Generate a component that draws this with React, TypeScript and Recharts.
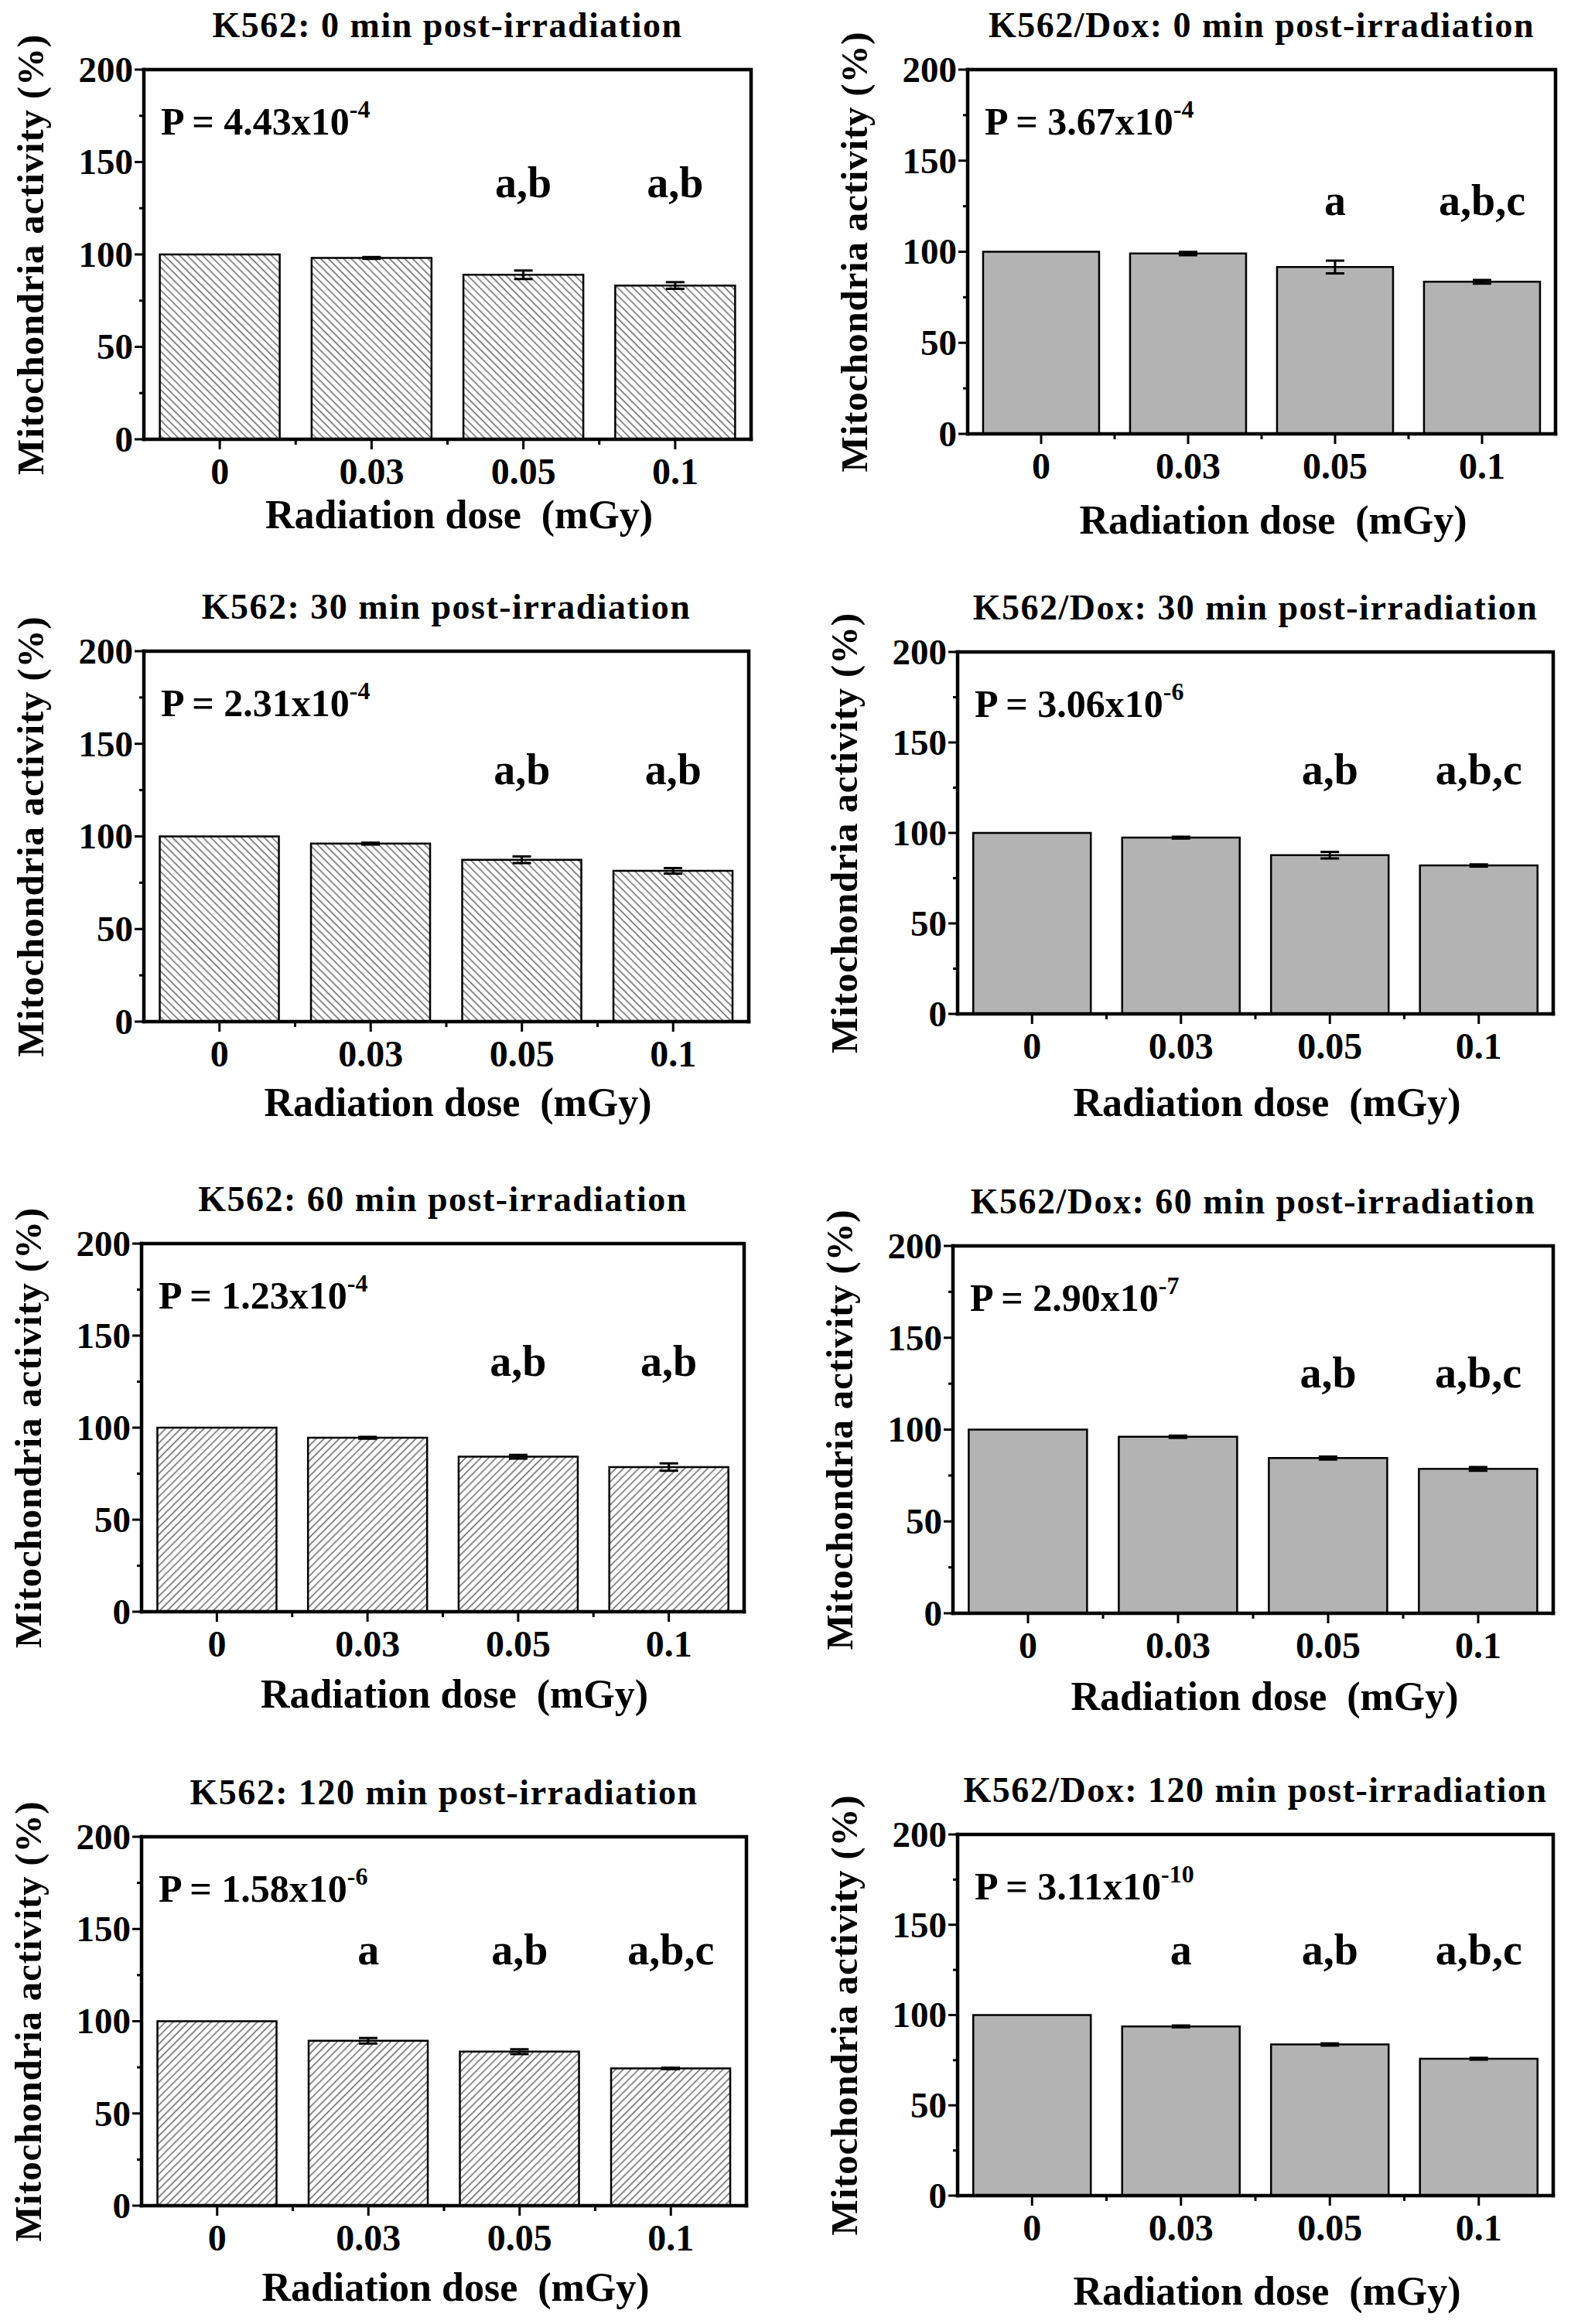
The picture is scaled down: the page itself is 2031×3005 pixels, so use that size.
import React from 'react';
import { BarChart, Bar, XAxis, YAxis, ErrorBar, ReferenceDot } from 'recharts';

const DOSES = ['0', '0.03', '0.05', '0.1'];
const Y_TICKS = [0, 25, 50, 75, 100, 125, 150, 175, 200];

const K562_0 = [100, 98.1, 89.0, 83.2];
const K562_0_ERR = [0, 0.5, 2.3, 1.8];
const DOX_0 = [100, 99.0, 91.6, 83.5];
const DOX_0_ERR = [0, 0.9, 3.5, 1.0];
const K562_30 = [100, 96.1, 87.4, 81.4];
const K562_30_ERR = [0, 0.5, 1.8, 1.5];
const DOX_30 = [100, 97.4, 87.7, 82.0];
const DOX_30_ERR = [0, 0.5, 1.8, 0.6];
const K562_60 = [100, 94.5, 84.2, 78.6];
const K562_60_ERR = [0, 0.5, 1.0, 2.0];
const DOX_60 = [100, 96.1, 84.5, 78.6];
const DOX_60_ERR = [0, 0.6, 0.8, 1.0];
const K562_120 = [100, 89.4, 83.5, 74.4];
const K562_120_ERR = [0, 1.5, 1.3, 0.4];
const DOX_120 = [100, 93.7, 83.7, 75.8];
const DOX_120_ERR = [0, 0.5, 0.6, 0.5];

const VALUES = [K562_0, DOX_0, K562_30, DOX_30, K562_60, DOX_60, K562_120, DOX_120];
const ERRORS = [K562_0_ERR, DOX_0_ERR, K562_30_ERR, DOX_30_ERR, K562_60_ERR, DOX_60_ERR, K562_120_ERR, DOX_120_ERR];

const TITLES = [
  'K562: 0 min post-irradiation',
  'K562/Dox: 0 min post-irradiation',
  'K562: 30 min post-irradiation',
  'K562/Dox: 30 min post-irradiation',
  'K562: 60 min post-irradiation',
  'K562/Dox: 60 min post-irradiation',
  'K562: 120 min post-irradiation',
  'K562/Dox: 120 min post-irradiation',
];

const P_MANTISSA = ['4.43', '3.67', '2.31', '3.06', '1.23', '2.90', '1.58', '3.11'];
const P_EXPONENT = ['-4', '-4', '-4', '-6', '-4', '-7', '-6', '-10'];

const ANNOTATIONS = [
  ['', '', 'a,b', 'a,b'],
  ['', '', 'a', 'a,b,c'],
  ['', '', 'a,b', 'a,b'],
  ['', '', 'a,b', 'a,b,c'],
  ['', '', 'a,b', 'a,b'],
  ['', '', 'a,b', 'a,b,c'],
  ['', 'a', 'a,b', 'a,b,c'],
  ['', 'a', 'a,b', 'a,b,c'],
];

// layout (pixel positions of each plot area) and annotation heights
const LAYOUT = [
  { L: 186, T: 90, R: 971, B: 568, xt: 99, ann: 131, hatch: 'back' },
  { L: 1251, T: 90, R: 2011, B: 561, xt: 113, ann: 120, hatch: 'none' },
  { L: 186, T: 842, R: 968, B: 1321, xt: 106, ann: 128, hatch: 'back' },
  { L: 1238, T: 843, R: 2008, B: 1311, xt: 116, ann: 127, hatch: 'none' },
  { L: 183, T: 1608, R: 962, B: 2084, xt: 108, ann: 128, hatch: 'fwd' },
  { L: 1232, T: 1611, R: 2008, B: 2086, xt: 109, ann: 123, hatch: 'none' },
  { L: 183, T: 2375, R: 965, B: 2852, xt: 107, ann: 131, hatch: 'fwd' },
  { L: 1238, T: 2372, R: 2008, B: 2839, xt: 125, ann: 128, hatch: 'none' },
];

const FONT = "'Liberation Serif', 'Times New Roman', serif";
const AXIS_STYLE = { stroke: '#000', strokeWidth: 4.5, strokeLinecap: 'square' as const };
const TOP_PAD = 40;

function YTick(props: any) {
  const { x, y, payload } = props;
  const major = payload.value % 50 === 0;
  return (
    <g>
      <line x1={x} x2={x - (major ? 12 : 6)} y1={y} y2={y} stroke="#000" strokeWidth={3} />
      {major && (
        <text x={x - 14} y={y} dy="0.34em" textAnchor="end" fontFamily={FONT} fontWeight={700} fontSize={47} fill="#000">
          {payload.value}
        </text>
      )}
    </g>
  );
}

function makeXTick(band: number) {
  return function XTick(props: any) {
    const { x, y, payload, index } = props;
    return (
      <g>
        <line x1={x} x2={x} y1={y} y2={y + 13} stroke="#000" strokeWidth={3} />
        {index < DOSES.length - 1 && (
          <line x1={x + band / 2} x2={x + band / 2} y1={y} y2={y + 7} stroke="#000" strokeWidth={3} />
        )}
        <text x={x} y={y + 58} textAnchor="middle" fontFamily={FONT} fontWeight={700} fontSize={48} fill="#000">
          {payload.value}
        </text>
      </g>
    );
  };
}

function annLabel(text: string) {
  return function AnnContent(props: any) {
    const vb = props.viewBox || {};
    const cx = (vb.x || 0) + (vb.width || 0) / 2;
    const cy = (vb.y || 0) + (vb.height || 0) / 2;
    return (
      <text x={cx} y={cy} textAnchor="middle" fontFamily={FONT} fontWeight={700} fontSize={56} fill="#000">
        {text}
      </text>
    );
  };
}

function Panel({ i }: { i: number }) {
  const lay = LAYOUT[i];
  const W = lay.R - lay.L;
  const H = lay.B - lay.T;
  const band = W / DOSES.length;
  const data = DOSES.map((d, k) => ({ dose: d, v: VALUES[i][k], e: ERRORS[i][k] }));
  const pid = `hatch${i}`;
  const fill = lay.hatch === 'none' ? '#b3b3b3' : `url(#${pid})`;
  const XTick = makeXTick(band);
  return (
    <div style={{ position: 'absolute', left: lay.L - 150, top: lay.T - TOP_PAD }}>
      <BarChart
        width={W + 160}
        height={H + TOP_PAD + 80}
        data={data}
        margin={{ top: TOP_PAD, right: 10, left: 0, bottom: 0 }}
        barCategoryGap="10.5%"
      >
        <defs>
          <pattern
            id={pid}
            patternUnits="userSpaceOnUse"
            width={7}
            height={7}
            patternTransform={lay.hatch === 'fwd' ? 'rotate(45)' : 'rotate(-45)'}
          >
            <rect width={7} height={7} fill="#ffffff" />
            <line x1={3.5} y1={-1} x2={3.5} y2={8} stroke="#5a5a5a" strokeWidth={1.4} />
          </pattern>
        </defs>
        <XAxis
          xAxisId="b"
          dataKey="dose"
          height={80}
          interval={0}
          tickSize={0}
          tickMargin={0}
          tickLine={false}
          axisLine={AXIS_STYLE}
          tick={<XTick />}
        />
        <YAxis
          yAxisId="l"
          width={150}
          domain={[0, 200]}
          ticks={Y_TICKS}
          interval={0}
          tickSize={0}
          tickMargin={0}
          tickLine={false}
          axisLine={AXIS_STYLE}
          tick={<YTick />}
        />
        <Bar xAxisId="b" yAxisId="l" dataKey="v" fill={fill} stroke="#000" strokeWidth={2.5} isAnimationActive={false}>
          <ErrorBar dataKey="e" direction="y" width={12} stroke="#000" strokeWidth={3} />
        </Bar>
        {ANNOTATIONS[i].map((t, k) =>
          t ? (
            <ReferenceDot
              key={k}
              xAxisId="b"
              yAxisId="l"
              x={DOSES[k]}
              y={lay.ann}
              r={1}
              fill="none"
              stroke="none"
              label={annLabel(t)}
            />
          ) : null
        )}
      </BarChart>
    </div>
  );
}

export default function App() {
  return (
    <div style={{ position: 'absolute', left: 0, top: 0, width: 2031, height: 3005, background: '#ffffff', overflow: 'hidden' }}>
      {LAYOUT.map((_, i) => (
        <Panel key={i} i={i} />
      ))}
      <svg width={2031} height={3005} style={{ position: 'absolute', left: 0, top: 0, pointerEvents: 'none' }}>
        {LAYOUT.map((lay, i) => {
          const cx = (lay.L + lay.R) / 2;
          const cy = (lay.T + lay.B) / 2;
          return (
            <g key={i} fontFamily={FONT} fontWeight={700} fill="#000">
              <polyline
                points={`${lay.L},${lay.T} ${lay.R},${lay.T} ${lay.R},${lay.B}`}
                fill="none"
                stroke="#000"
                strokeWidth={4.5}
                strokeLinecap="square"
              />
              <text x={cx} y={lay.T - 42} textAnchor="middle" fontSize={46} letterSpacing={1.5}>
                {TITLES[i]}
              </text>
              <text x={cx + 15} y={lay.B + lay.xt + 16} textAnchor="middle" fontSize={52} style={{ whiteSpace: 'pre' }}>
                {'Radiation dose  (mGy)'}
              </text>
              <text transform={`translate(${lay.L - 130}, ${cy}) rotate(-90)`} textAnchor="middle" fontSize={49} letterSpacing={0.8}>
                Mitochondria activity (%)
              </text>
              <text x={lay.L + 22} y={lay.T + 84} fontSize={50}>
                {`P = ${P_MANTISSA[i]}x10`}
                <tspan dy={-22} fontSize={32}>
                  {P_EXPONENT[i]}
                </tspan>
              </text>
            </g>
          );
        })}
      </svg>
    </div>
  );
}
